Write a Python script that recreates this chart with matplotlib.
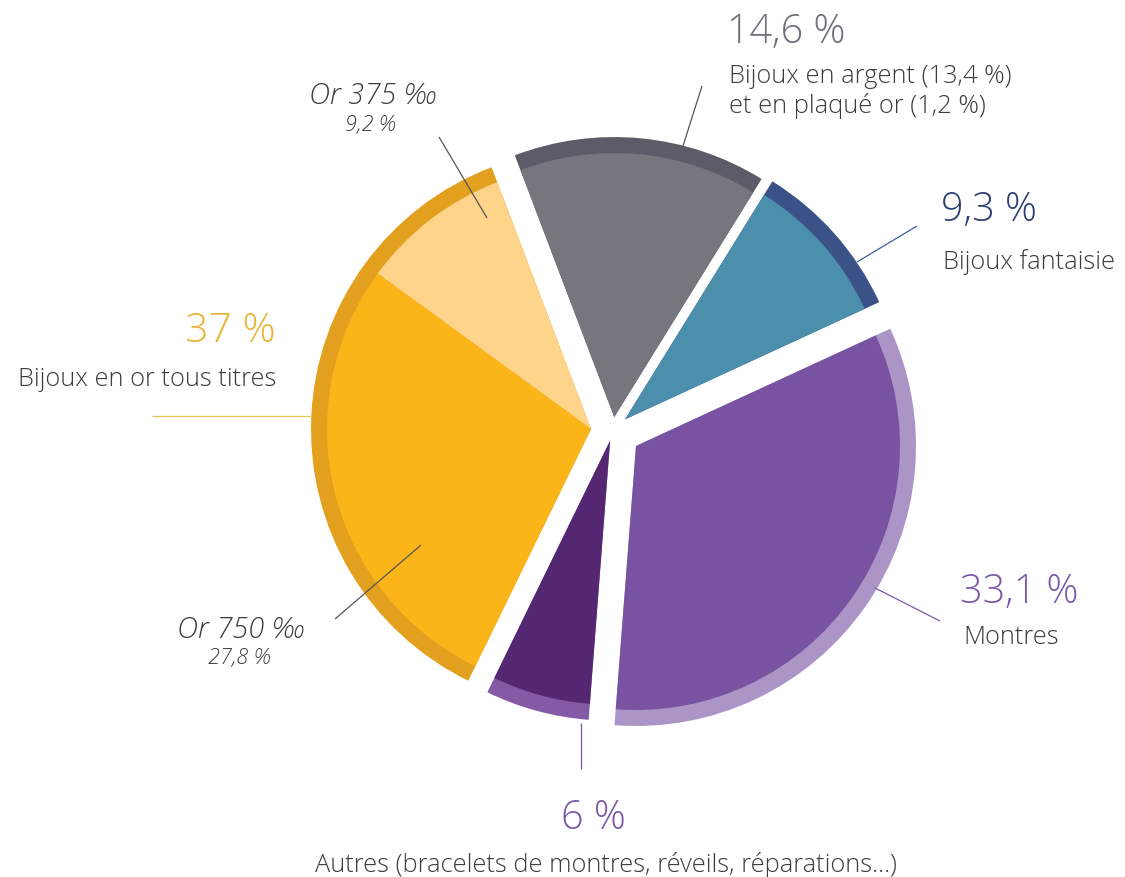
import numpy as np
import matplotlib
matplotlib.use("Agg")
import matplotlib.pyplot as plt
from matplotlib.patches import Wedge

# données (en %)
groupes = ["Bijoux en argent", "Bijoux fantaisie", "Montres", "Autres", "Bijoux en or"]
valeurs = [14.6, 9.3, 33.1, 6.0, 37.0]
or_375 = 9.2
or_750 = 27.8

couleurs_anneau = ["#5c5b68", "#3a5288", "#ab95c6", "#8459a6", "#e2a01e"]
couleurs_fond = ["#76767f", "#4b8fad", "#7953a1", "#552672", None]
couleur_or_750 = "#fbb519"
couleur_or_375 = "#fed48a"

# décalages (px) de chaque part
explode = [13, 16, 28, 11, 22]

W, H = 1125, 878
R = 280
R_int = 264
cx, cy = 613, H - 431

plt.rcParams['font.family'] = ['Open Sans', 'DejaVu Sans']

fig = plt.figure(figsize=(W / 100, H / 100), dpi=100)
ax = fig.add_axes([0, 0, 1, 1])

parts, _ = ax.pie(valeurs, radius=R, center=(cx, cy), startangle=110.8,
                  counterclock=False, explode=explode, colors=couleurs_anneau,
                  wedgeprops=dict(linewidth=0))

for w, coul in zip(parts, couleurs_fond):
    if coul is not None:
        ax.add_patch(Wedge(w.center, R_int, w.theta1, w.theta2, color=coul, lw=0))
    else:
        # le groupe or : 375 ‰ côté argent, 750 ‰ ensuite
        coupe = w.theta1 + 360 * or_375 / 100
        ax.add_patch(Wedge(w.center, R_int, w.theta1, coupe, color=couleur_or_375, lw=0))
        ax.add_patch(Wedge(w.center, R_int, coupe, w.theta2, color=couleur_or_750, lw=0))

ax.set_xlim(0, W)
ax.set_ylim(0, H)
ax.set_aspect('equal')
ax.axis('off')


def Y(y):
    return H - y


def trait(x0, y0, x1, y1, c):
    ax.plot([x0, x1], [Y(y0), Y(y1)], color=c, lw=0.9, solid_capstyle='butt')


gris = "#3c3c3c"
poids = 'light'
# lignes de rappel
trait(683, 147, 702, 87, "#555555")
trait(857, 263, 917, 227, "#3a5ba0")
trait(152, 417, 312, 417, "#eac35f")
trait(439, 138, 487, 219, "#555555")
trait(335, 620, 421, 546, "#555555")
trait(875, 589, 940, 622, "#7b59a8")
trait(581, 724, 581, 770, "#7b59a8")

gros = 28.5
moyen = 18.3
ital = 21
petit = 15.5

ax.text(727, Y(32), "14,6 %", fontsize=gros, color="#6e6e78", fontweight=poids, va='center', ha='left')
ax.text(729, Y(76), "Bijoux en argent (13,4 %)", fontsize=moyen, color=gris, fontweight=poids, va='center')
ax.text(729, Y(106), "et en plaqué or (1,2 %)", fontsize=moyen, color=gris, fontweight=poids, va='center')

ax.text(941, Y(210), "9,3 %", fontsize=gros, color="#2e3f74", fontweight=poids, va='center')
ax.text(943, Y(262), "Bijoux fantaisie", fontsize=moyen, color=gris, fontweight=poids, va='center')

ax.text(276, Y(332), "37 %", fontsize=gros + 1, color="#e8b53b", fontweight=poids, va='center', ha='right')
ax.text(276, Y(380), "Bijoux en or tous titres", fontsize=moyen, color=gris, fontweight=poids, va='center', ha='right')

ax.text(372, Y(96), "Or 375 ‰", fontsize=ital, color=gris, fontweight=poids, style='italic', va='center', ha='center')
ax.text(370, Y(125), "9,2 %", fontsize=petit, color=gris, fontweight=poids, style='italic', va='center', ha='center')

ax.text(240, Y(630), "Or 750 ‰", fontsize=ital, color=gris, fontweight=poids, style='italic', va='center', ha='center')
ax.text(239, Y(658), "27,8 %", fontsize=petit, color=gris, fontweight=poids, style='italic', va='center', ha='center')

ax.text(960, Y(592), "33,1 %", fontsize=gros, color="#7b59a8", fontweight=poids, va='center')
ax.text(963, Y(637), "Montres", fontsize=moyen, color=gris, fontweight=poids, va='center')

ax.text(593, Y(819), "6 %", fontsize=gros, color="#7b59a8", fontweight=poids, va='center', ha='center')
ax.text(606, Y(865), "Autres (bracelets de montres, réveils, réparations…)", fontsize=moyen, color=gris,
        fontweight=poids, va='center', ha='center')

fig.savefig("out.png", dpi=100)
